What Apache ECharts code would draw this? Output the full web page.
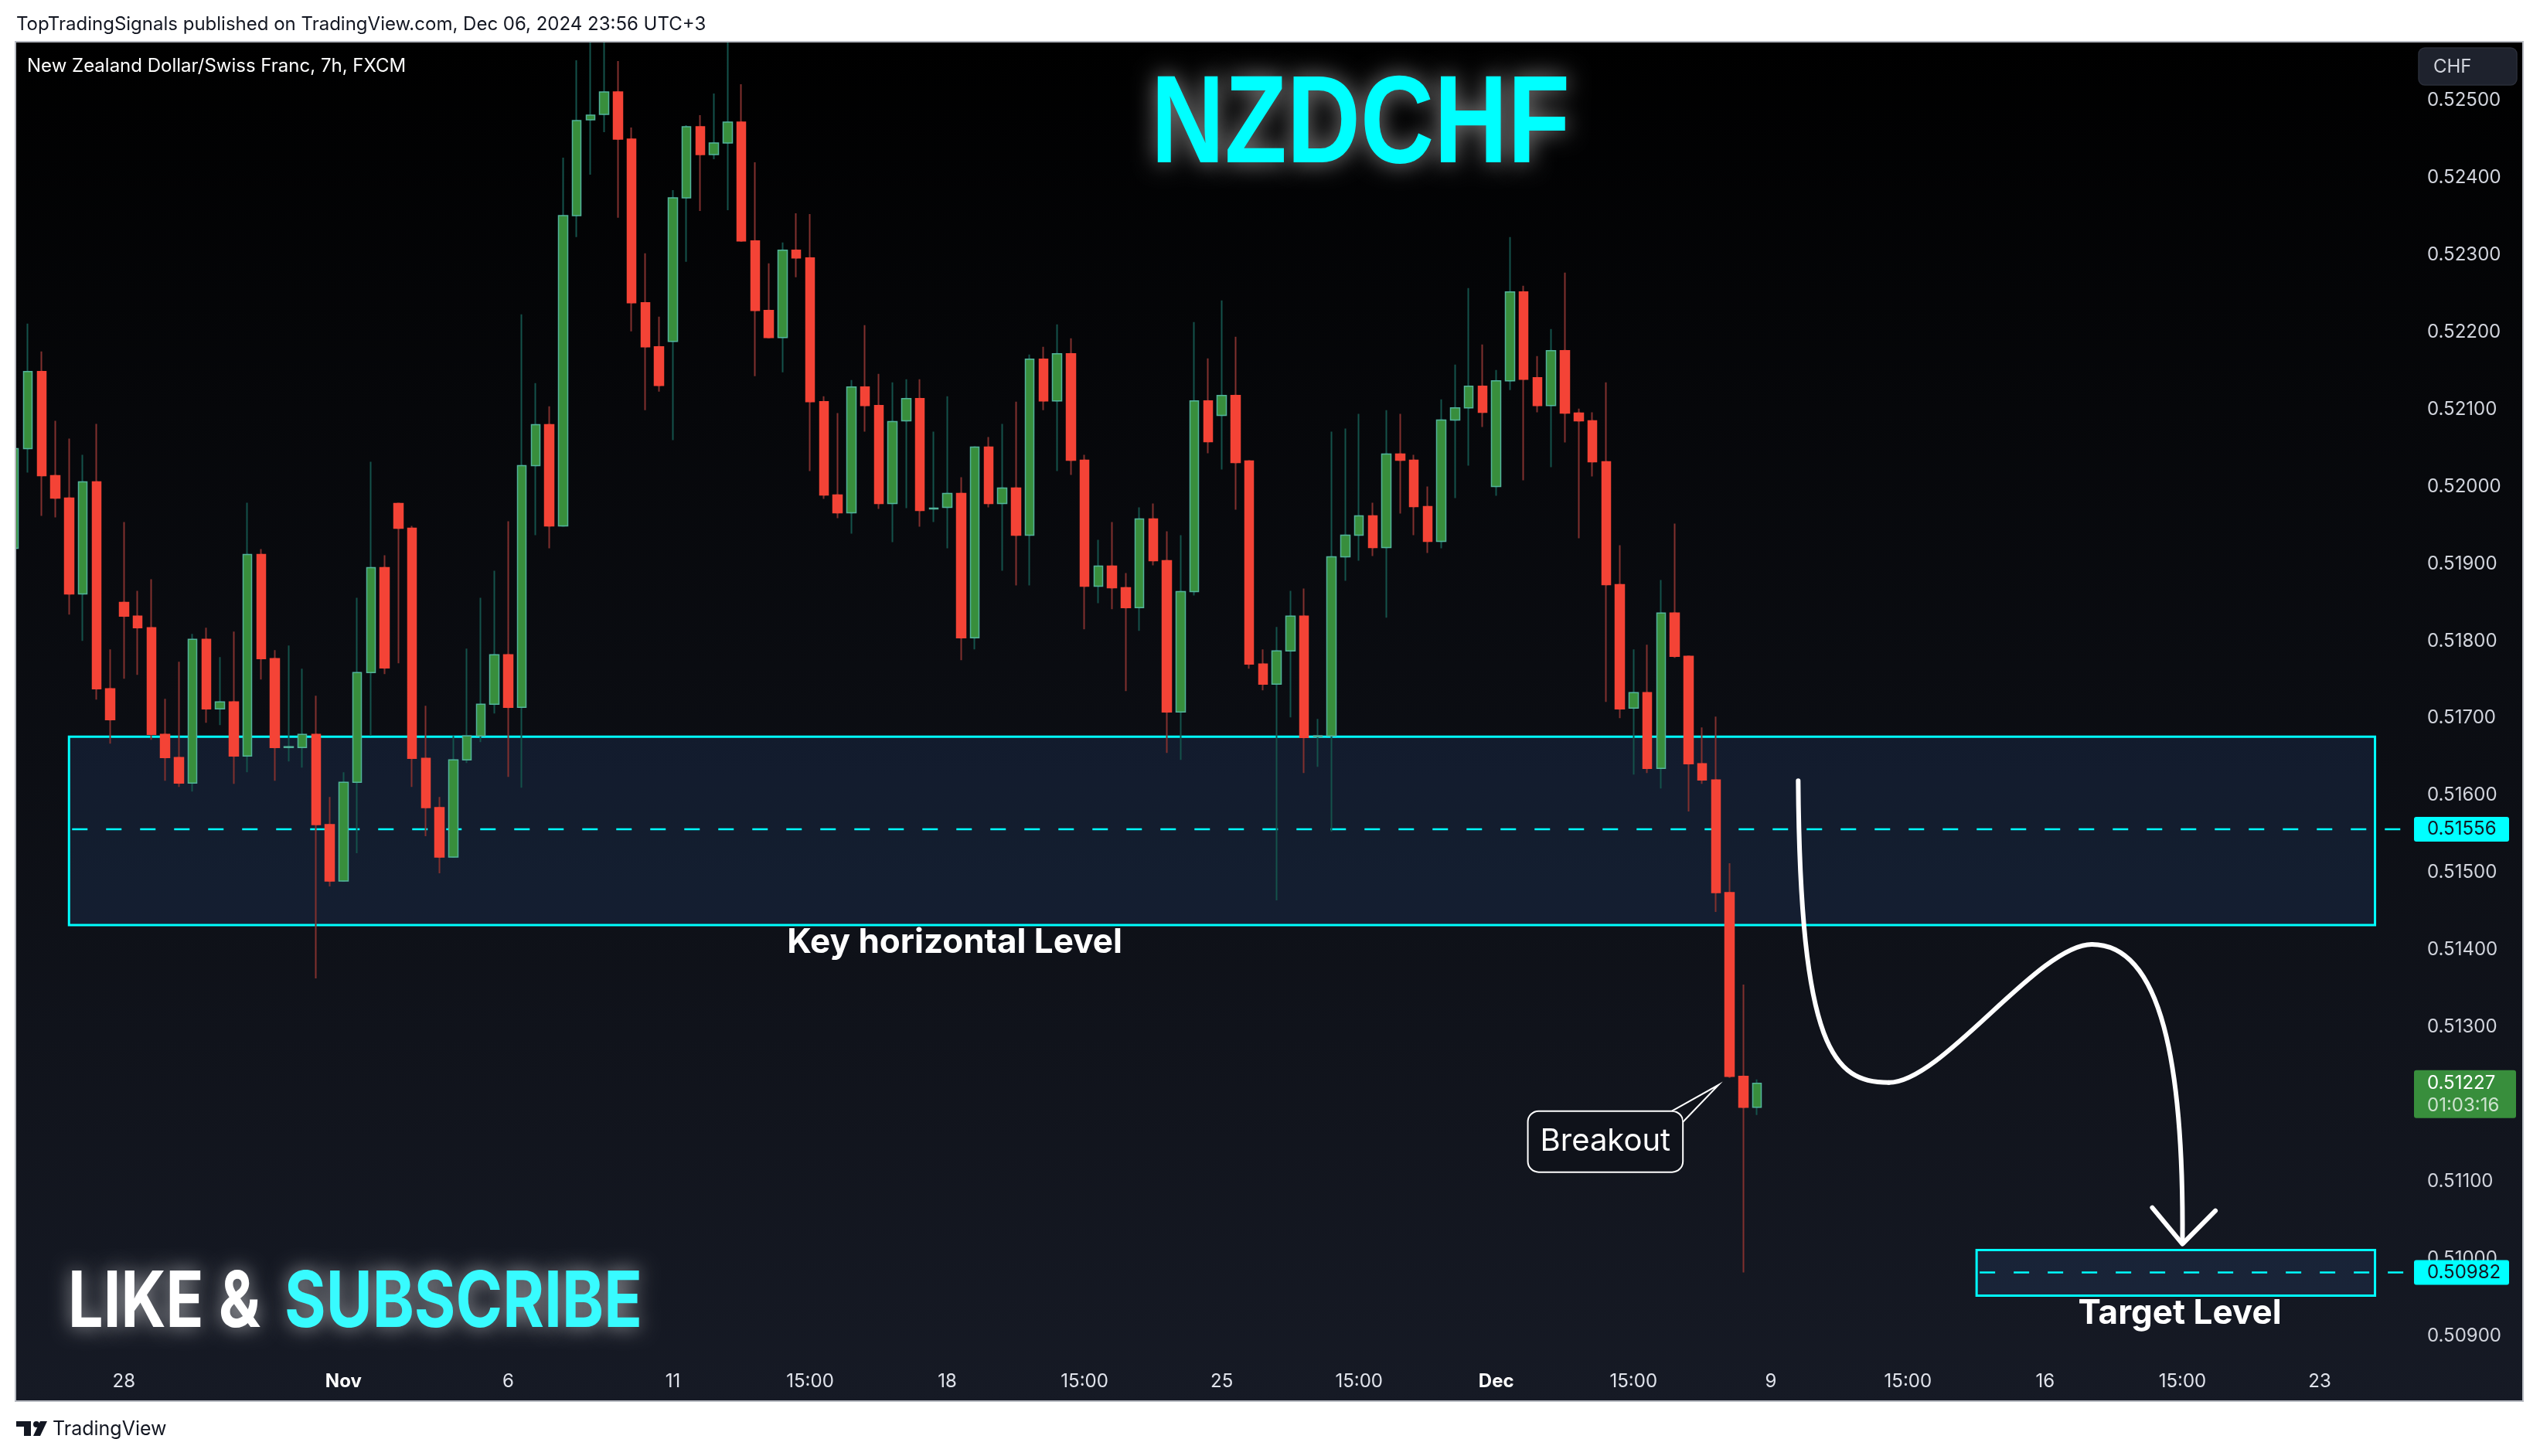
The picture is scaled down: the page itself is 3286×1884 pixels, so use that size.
<!DOCTYPE html>
<html>
<head>
<meta charset="utf-8">
<title>NZDCHF</title>
<script src="https://cdn.jsdelivr.net/npm/echarts@6.0.0/dist/echarts.min.js"></script>
<style>
html, body { margin:0; padding:0; background:#ffffff; }
#chart { width:3286px; height:1884px; }
</style>
</head>
<body>
<div id="chart"></div>
<script>
// ---------------- data (NZD/CHF, 7h bars) ----------------
const opens = [
0.51920,0.52049,0.52149,0.52014,0.51985,0.51861,0.52006,0.51738,0.51850,0.51832,
0.51817,0.51679,0.51649,0.51616,0.51802,0.51712,0.51721,0.51651,0.51912,0.51777,
0.51662,0.51662,0.51679,0.51562,0.51489,0.51617,0.51759,0.51895,0.51978,0.51946,
0.51648,0.51584,0.51520,0.51646,0.51677,0.51718,0.51782,0.51714,0.52027,0.52080,
0.51949,0.52351,0.52475,0.52482,0.52511,0.52450,0.52238,0.52181,0.52188,0.52374,
0.52466,0.52430,0.52445,0.52472,0.52318,0.52228,0.52193,0.52306,0.52296,0.52110,
0.51989,0.51966,0.52129,0.52105,0.51978,0.52085,0.52114,0.51971,0.51973,0.51991,
0.51804,0.52051,0.51978,0.51998,0.51937,0.52165,0.52111,0.52172,0.52034,0.51871,
0.51897,0.51869,0.51843,0.51958,0.51904,0.51708,0.51864,0.52111,0.52092,0.52118,
0.52033,0.51770,0.51744,0.51787,0.51832,0.51676,0.51677,0.51909,0.51937,0.51962,
0.51921,0.52042,0.52034,0.51974,0.51929,0.52086,0.52102,0.52130,0.52000,0.52137,
0.52252,0.52141,0.52105,0.52176,0.52095,0.52085,0.52032,0.51873,0.51713,0.51733,
0.51635,0.51836,0.51780,0.51641,0.51620,0.51474,0.51236,0.51196];
const closes = [
0.52049,0.52149,0.52014,0.51985,0.51861,0.52006,0.51738,0.51698,0.51832,0.51817,
0.51679,0.51649,0.51616,0.51802,0.51712,0.51721,0.51651,0.51912,0.51777,0.51662,
0.51663,0.51679,0.51562,0.51489,0.51617,0.51759,0.51895,0.51765,0.51946,0.51648,
0.51584,0.51520,0.51646,0.51677,0.51718,0.51782,0.51714,0.52027,0.52080,0.51949,
0.52351,0.52474,0.52481,0.52511,0.52450,0.52238,0.52181,0.52131,0.52374,0.52466,
0.52430,0.52445,0.52472,0.52318,0.52228,0.52193,0.52306,0.52296,0.52110,0.51989,
0.51966,0.52129,0.52105,0.51978,0.52084,0.52114,0.51969,0.51972,0.51991,0.51804,
0.52051,0.51978,0.51998,0.51937,0.52165,0.52111,0.52172,0.52034,0.51871,0.51897,
0.51869,0.51843,0.51958,0.51904,0.51708,0.51864,0.52111,0.52058,0.52118,0.52031,
0.51770,0.51744,0.51787,0.51832,0.51675,0.51677,0.51909,0.51937,0.51962,0.51921,
0.52042,0.52034,0.51974,0.51929,0.52086,0.52102,0.52130,0.52096,0.52137,0.52252,
0.52139,0.52105,0.52176,0.52095,0.52085,0.52032,0.51873,0.51712,0.51733,0.51635,
0.51836,0.51780,0.51641,0.51620,0.51474,0.51236,0.51196,0.51227];
const lows = [
0.51905,0.52018,0.51962,0.51960,0.51834,0.51800,0.51724,0.51667,0.51751,0.51756,
0.51672,0.51619,0.51611,0.51605,0.51694,0.51691,0.51615,0.51630,0.51750,0.51619,
0.51644,0.51636,0.51363,0.51482,0.51488,0.51525,0.51677,0.51757,0.51771,0.51611,
0.51547,0.51499,0.51519,0.51642,0.51669,0.51706,0.51624,0.51610,0.51937,0.51920,
0.51948,0.52323,0.52404,0.52459,0.52348,0.52201,0.52099,0.52123,0.52060,0.52291,
0.52357,0.52424,0.52358,0.52317,0.52143,0.52193,0.52148,0.52271,0.52020,0.51984,
0.51959,0.51939,0.52071,0.51971,0.51928,0.51972,0.51948,0.51954,0.51920,0.51775,
0.51789,0.51973,0.51891,0.51872,0.51872,0.52099,0.52020,0.52015,0.51815,0.51849,
0.51841,0.51735,0.51813,0.51898,0.51655,0.51646,0.51859,0.52043,0.52022,0.51970,
0.51764,0.51736,0.51464,0.51701,0.51629,0.51637,0.51553,0.51878,0.51904,0.51910,
0.51830,0.51965,0.51937,0.51914,0.51920,0.51985,0.52027,0.52077,0.51988,0.52125,
0.52008,0.52096,0.52025,0.52057,0.51933,0.52013,0.51721,0.51700,0.51627,0.51629,
0.51609,0.51778,0.51579,0.51615,0.51449,0.51234,0.50982,0.51186];
const highs = [
0.52060,0.52211,0.52175,0.52085,0.52062,0.52041,0.52081,0.51789,0.51954,0.51865,
0.51880,0.51725,0.51773,0.51809,0.51817,0.51779,0.51812,0.51979,0.51919,0.51788,
0.51794,0.51764,0.51729,0.51598,0.51630,0.51856,0.52032,0.51911,0.51979,0.51949,
0.51716,0.51598,0.51677,0.51790,0.51856,0.51891,0.51955,0.52223,0.52134,0.52104,
0.52426,0.52552,0.52590,0.52590,0.52551,0.52465,0.52302,0.52220,0.52384,0.52468,
0.52481,0.52509,0.52590,0.52521,0.52420,0.52289,0.52316,0.52354,0.52353,0.52117,
0.52095,0.52138,0.52209,0.52146,0.52135,0.52139,0.52139,0.52071,0.52117,0.52012,
0.52052,0.52064,0.52081,0.52110,0.52171,0.52181,0.52210,0.52192,0.52041,0.51931,
0.51954,0.51888,0.51973,0.51978,0.51942,0.51937,0.52213,0.52166,0.52241,0.52194,
0.52034,0.51789,0.51818,0.51865,0.51868,0.51699,0.52071,0.52075,0.52094,0.51979,
0.52099,0.52094,0.52041,0.52000,0.52113,0.52158,0.52257,0.52184,0.52151,0.52323,
0.52260,0.52169,0.52204,0.52277,0.52101,0.52096,0.52135,0.51924,0.51789,0.51795,
0.51879,0.51952,0.51781,0.51688,0.51702,0.51512,0.51355,0.51232];

// time-scale tick labels (bar index -> label)
const tickIndex  = [8, 24, 36, 48, 58, 68, 78, 88, 98, 108, 118, 128, 138, 148, 158, 168];
const tickLabels = ['28','Nov','6','11','15:00','18','15:00','25','15:00','Dec','15:00','9','15:00','16','15:00','23'];
const monthLabels = ['Nov', 'Dec'];
// price-scale tick labels
const priceTicks = [0.509,0.510,0.511,0.512,0.513,0.514,0.515,0.516,0.517,0.518,0.519,0.520,0.521,0.522,0.523,0.524,0.525];

// drawings (price levels and their bar-index spans)
const keyZone     = [0.51432, 0.51676];
const keyLine     = 0.51556;
const keySpan     = [4.0, 172.03];
const targetZone  = [0.50952, 0.51011];
const targetLine  = 0.50982;
const targetSpan  = [143.0, 172.03];
const lastPrice   = 0.51227;
const countdown   = '01:03:16';
// projected path: piecewise cubic bezier control points [barIndex, price]
const pathPoints = [[130.0,0.51619],[130.15,0.51270],[132.6,0.51228],[136.6,0.51228],
                    [140.5,0.51228],[147.5,0.51407],[151.4,0.51407],
                    [156.5,0.51407],[158.1,0.51250],[158.0,0.51021]];
const arrowHead  = [[155.8,0.51066],[158.0,0.51019],[160.4,0.51062]];
// breakout callout: box corners and pointer tip [barIndex, price]
const calloutBox = [[110.3,0.51191],[121.6,0.51112]];
const calloutTip = [124.2,0.51225];
const calloutBase = [[120.8,0.51191],[121.6,0.51177]];

// ---------------- chart ----------------
const X_MIN = 0.099, X_MAX = 174.59;
const Y_MIN = 0.508684, Y_MAX = 0.525761;
const FONT = 'Inter, "Noto Sans", Roboto, sans-serif';
const GREEN = '#388e3c', GREEN_EDGE = '#52b39b', RED = '#f44336';
const WICK_UP = '#14524b', WICK_DN = '#81302e';
const CYAN = '#00ffff';

const candleData = opens.map((o, i) => [i, o, closes[i], lows[i], highs[i]]);
const bodyData = opens.map((o, i) => [i, o, closes[i], Math.min(o, closes[i]), Math.max(o, closes[i])]);

const chart = echarts.init(document.getElementById('chart'), null, {renderer: 'canvas', width: 3286, height: 1884});

const option = {
  backgroundColor: '#ffffff',
  animation: false,
  tooltip: {show: false},
  grid: {left: 20, right: 168, top: 54, bottom: 124, containLabel: false, outerBoundsMode: 'none'},
  xAxis: {
    type: 'value', min: X_MIN, max: X_MAX,
    axisLine: {show: false}, axisTick: {show: false}, splitLine: {show: false},
    axisLabel: {
      customValues: tickIndex,
      formatter: function (v) {
        const k = tickIndex.indexOf(Math.round(v));
        if (k < 0) return '';
        const t = tickLabels[k];
        return monthLabels.indexOf(t) >= 0 ? '{m|' + t + '}' : t;
      },
      color: '#e0e3eb', fontSize: 24, fontFamily: FONT, margin: 16,
      rich: {m: {color: '#ffffff', fontWeight: 'bold', fontSize: 24, fontFamily: FONT}}
    }
  },
  yAxis: {
    type: 'value', position: 'right', min: Y_MIN, max: Y_MAX, scale: true,
    axisLine: {show: false}, axisTick: {show: false}, splitLine: {show: false},
    axisLabel: {
      customValues: priceTicks,
      formatter: v => v.toFixed(5),
      color: '#d1d4dc', fontSize: 24, fontFamily: FONT, margin: 22
    }
  },
  series: [
    {
      type: 'candlestick', name: 'wicks', data: candleData,
      encode: {x: 0, y: [1, 2, 3, 4]}, barWidth: 2, clip: true, z: 2, silent: true,
      emphasis: {disabled: true},
      itemStyle: {color: WICK_UP, color0: WICK_DN, borderColor: WICK_UP, borderColor0: WICK_DN, borderWidth: 2}
    },
    {
      type: 'candlestick', name: 'bodies', data: bodyData,
      encode: {x: 0, y: [1, 2, 3, 4]}, barWidth: 12, clip: true, z: 3, silent: true,
      emphasis: {disabled: true},
      itemStyle: {color: GREEN, color0: RED, borderColor: GREEN_EDGE, borderColor0: RED, borderWidth: 1.5}
    }
  ]
};
chart.setOption(option);

// ---------------- drawings ----------------
const P = (x, y) => chart.convertToPixel({gridIndex: 0}, [x, y]);
const mctx = document.createElement('canvas').getContext('2d');
function textW(t, font) { mctx.font = font; return mctx.measureText(t).width; }

const plotRight = P(X_MAX, Y_MIN)[0];
const g = [];

// chart frame with dark gradient
g.push({type: 'rect', z: 0, shape: {x: 20, y: 54, width: 3244, height: 1759},
  style: {fill: new echarts.graphic.LinearGradient(0, 0, 0, 1, [{offset: 0, color: '#000000'}, {offset: 1, color: '#161a25'}]),
          stroke: '#b8bbc2', lineWidth: 2}});

function zone(span, zoneP, lineP) {
  const a = P(span[0], zoneP[1]), b = P(span[1], zoneP[0]);
  g.push({type: 'rect', z: 1, shape: {x: a[0], y: a[1], width: b[0] - a[0], height: b[1] - a[1]},
    style: {fill: 'rgba(40,70,125,0.25)', stroke: CYAN, lineWidth: 3}});
  const l = P(span[0], lineP);
  g.push({type: 'line', z: 1, shape: {x1: l[0] + 4, y1: l[1], x2: plotRight - 6, y2: l[1]},
    style: {stroke: CYAN, lineWidth: 2.5, lineDash: [20, 24]}});
}
zone(keySpan, keyZone, keyLine);
zone(targetSpan, targetZone, targetLine);

// page margins outside the chart frame (keeps candles inside the pane)
g.push({type: 'rect', z: 40, shape: {x: 0, y: 0, width: 3286, height: 53}, style: {fill: '#ffffff'}});
g.push({type: 'rect', z: 40, shape: {x: 0, y: 0, width: 19, height: 1884}, style: {fill: '#ffffff'}});
g.push({type: 'line', z: 41, shape: {x1: 20, y1: 54, x2: 3264, y2: 54}, style: {stroke: '#b8bbc2', lineWidth: 2}});
g.push({type: 'line', z: 41, shape: {x1: 20, y1: 54, x2: 20, y2: 1813}, style: {stroke: '#b8bbc2', lineWidth: 2}});

// price tags on the scale
function tag(price, txt) {
  const y = P(X_MAX, price)[1];
  g.push({type: 'rect', z: 20, shape: {x: 3123, y: y - 16, width: 123, height: 32, r: 3}, style: {fill: CYAN}});
  g.push({type: 'text', z: 21, style: {text: txt, x: 3140, y: y, font: '24px ' + FONT, fill: '#131722', align: 'left', verticalAlign: 'middle'}});
}
tag(keyLine, keyLine.toFixed(5));
tag(targetLine, targetLine.toFixed(5));
(function () {
  const y = P(X_MAX, lastPrice)[1];
  g.push({type: 'rect', z: 20, shape: {x: 3123, y: y - 17, width: 132, height: 62, r: 3}, style: {fill: GREEN}});
  g.push({type: 'text', z: 21, style: {text: lastPrice.toFixed(5), x: 3140, y: y, font: '24px ' + FONT, fill: '#ffffff', align: 'left', verticalAlign: 'middle'}});
  g.push({type: 'text', z: 21, style: {text: countdown, x: 3140, y: y + 29, font: '24px ' + FONT, fill: 'rgba(255,255,255,0.75)', align: 'left', verticalAlign: 'middle'}});
})();

// projected path + arrow
for (let s = 0; s < 3; s++) {
  const p0 = P(...pathPoints[s * 3]), c1 = P(...pathPoints[s * 3 + 1]), c2 = P(...pathPoints[s * 3 + 2]), p1 = P(...pathPoints[s * 3 + 3]);
  g.push({type: 'bezierCurve', z: 15, shape: {x1: p0[0], y1: p0[1], cpx1: c1[0], cpy1: c1[1], cpx2: c2[0], cpy2: c2[1], x2: p1[0], y2: p1[1]},
    style: {stroke: '#ffffff', lineWidth: 6, lineCap: 'round', fill: null}});
}
g.push({type: 'polyline', z: 15, shape: {points: arrowHead.map(p => P(...p))},
  style: {stroke: '#ffffff', lineWidth: 6, lineCap: 'round', lineJoin: 'round', fill: null}});

// breakout callout
(function () {
  const a = P(...calloutBox[0]), b = P(...calloutBox[1]);
  const tip = P(...calloutTip), bt = P(...calloutBase[0]), br = P(...calloutBase[1]);
  g.push({type: 'rect', z: 15, shape: {x: a[0], y: a[1], width: b[0] - a[0], height: b[1] - a[1], r: 14},
    style: {fill: '#0f121a', stroke: '#ffffff', lineWidth: 2}});
  g.push({type: 'polygon', z: 16, shape: {points: [bt, tip, br, [b[0] + 1, a[1] - 1]]}, style: {fill: '#0f121a'}});
  g.push({type: 'polyline', z: 17, shape: {points: [bt, tip, br]}, style: {stroke: '#ffffff', lineWidth: 2, fill: null}});
  g.push({type: 'text', z: 17, style: {text: 'Breakout', x: (a[0] + b[0]) / 2, y: (a[1] + b[1]) / 2, font: '40px ' + FONT, fill: '#ffffff', align: 'center', verticalAlign: 'middle'}});
})();

// zone captions
g.push({type: 'text', z: 15, style: {text: 'Key horizontal Level', x: 1235, y: 1220, font: 'bold 44px ' + FONT, fill: '#ffffff', align: 'center', verticalAlign: 'middle'}});
g.push({type: 'text', z: 15, style: {text: 'Target Level', x: 2820, y: 1700, font: 'bold 44px ' + FONT, fill: '#ffffff', align: 'center', verticalAlign: 'middle'}});

// big glowing titles
const titleFont = 'bold 162px "Liberation Sans", Arial, sans-serif';
g.push({type: 'text', z: 30, x: 1760, y: 165, scaleX: 542 / textW('NZDCHF', titleFont),
  style: {text: 'NZDCHF', x: 0, y: 0, font: titleFont, fill: CYAN, align: 'center', verticalAlign: 'middle',
          textShadowColor: 'rgba(255,255,255,0.55)', textShadowBlur: 30}});
const likeFont = 'bold 100px ' + FONT;
g.push({type: 'text', z: 30, x: 88, y: 1687, scaleX: 249 / textW('LIKE &', likeFont),
  style: {text: 'LIKE &', x: 0, y: 0, font: likeFont, fill: '#ffffff', align: 'left', verticalAlign: 'middle',
          textShadowColor: 'rgba(255,255,255,0.6)', textShadowBlur: 26}});
g.push({type: 'text', z: 30, x: 368, y: 1687, scaleX: 463 / textW('SUBSCRIBE', likeFont),
  style: {text: 'SUBSCRIBE', x: 0, y: 0, font: likeFont, fill: '#38fbff', align: 'left', verticalAlign: 'middle',
          textShadowColor: 'rgba(255,255,255,0.6)', textShadowBlur: 26}});

// header / symbol / branding
g.push({type: 'text', z: 50, style: {text: 'TopTradingSignals published on TradingView.com, Dec 06, 2024 23:56 UTC+3', x: 21, y: 32, font: '24px ' + FONT, fill: '#131722', align: 'left', verticalAlign: 'middle'}});
g.push({type: 'text', z: 30, style: {text: 'New Zealand Dollar/Swiss Franc, 7h, FXCM', x: 35, y: 86, font: '24px ' + FONT, fill: '#ffffff', align: 'left', verticalAlign: 'middle'}});
g.push({type: 'rect', z: 50, shape: {x: 21, y: 1839, width: 19, height: 7}, style: {fill: '#131722'}});
g.push({type: 'rect', z: 50, shape: {x: 31, y: 1839, width: 9, height: 19}, style: {fill: '#131722'}});
g.push({type: 'circle', z: 50, shape: {cx: 47, cy: 1843, r: 4}, style: {fill: '#131722'}});
g.push({type: 'polygon', z: 50, shape: {points: [[43, 1858], [52, 1839], [61, 1839], [52, 1858]]}, style: {fill: '#131722'}});
g.push({type: 'text', z: 50, style: {text: 'TradingView', x: 68, y: 1849, font: '25px ' + FONT, fill: '#131722', align: 'left', verticalAlign: 'middle'}});

// currency button on the price scale
g.push({type: 'rect', z: 30, shape: {x: 3129, y: 62, width: 127, height: 48, r: 8}, style: {fill: '#1e222d', stroke: '#2a2e39', lineWidth: 1.5}});
g.push({type: 'text', z: 31, style: {text: 'CHF', x: 3148, y: 87, font: '24px ' + FONT, fill: '#d1d4dc', align: 'left', verticalAlign: 'middle'}});

chart.setOption({graphic: {elements: g}});
</script>
</body>
</html>
